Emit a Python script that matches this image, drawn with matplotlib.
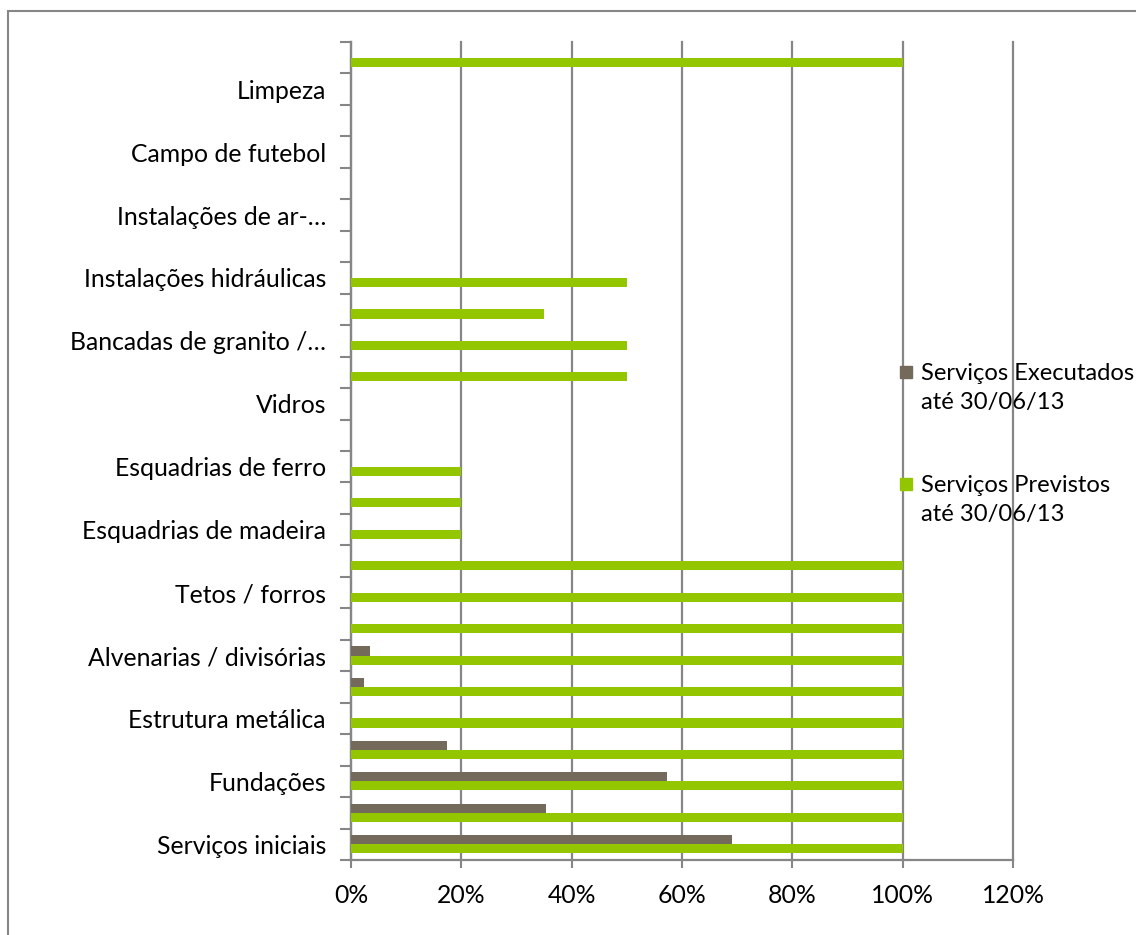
import matplotlib
matplotlib.use("Agg")
import matplotlib.pyplot as plt
from matplotlib.patches import Rectangle
import numpy as np

categories = ["Serviços iniciais", "", "Fundações", "", "Estrutura metálica", "",
              "Alvenarias / divisórias", "", "Tetos / forros", "", "Esquadrias de madeira", "",
              "Esquadrias de ferro", "", "Vidros", "", "Bancadas de granito /…", "",
              "Instalações hidráulicas", "", "Instalações de ar-…", "", "Campo de futebol", "",
              "Limpeza", ""]
executados = [69.0, 35.4, 57.3, 17.4, 0, 2.3, 3.4, 0, 0, 0, 0, 0, 0,
              0, 0, 0, 0, 0, 0, 0, 0, 0, 0, 0, 0, 0]
previstos = [100, 100, 100, 100, 100, 100, 100, 100, 100, 100, 20, 20, 20,
             0, 0, 50, 50, 35, 50, 0, 0, 0, 0, 0, 0, 100]
series_names = ["Serviços Executados\naté 30/06/13", "Serviços Previstos\naté 30/06/13"]
xticks = [0, 20, 40, 60, 80, 100, 120]

C_EXE = "#736A5C"
C_PRE = "#94C600"
C_GRID = "#868686"
FS = 17.8
FS_LEG = 17.1

plt.rcParams['font.family'] = ['Lato', 'DejaVu Sans']
W, H = 1136, 935
fig = plt.figure(figsize=(W / 100, H / 100), dpi=100)
ax = fig.add_axes([351 / W, 1 - 860 / H, (1013 - 351) / W, (860 - 42) / H])

n = len(categories)
y = np.arange(n)
bh = 0.29
ax.barh(y + bh / 2, executados, height=bh, color=C_EXE, zorder=3)
ax.barh(y - bh / 2, previstos, height=bh, color=C_PRE, zorder=3)

ax.set_xlim(0, 120)
ax.set_ylim(-0.5, n - 0.5)
ax.set_xticks(xticks)
ax.set_xticklabels([f"{v}%" for v in xticks], fontsize=FS)
ax.grid(axis='x', color=C_GRID, linewidth=1.6, zorder=0)
for gl in ax.get_xgridlines():
    gl.set_clip_on(False)
for s in ['top', 'right']:
    ax.spines[s].set_visible(False)
for s in ['left', 'bottom']:
    ax.spines[s].set_color(C_GRID)
    ax.spines[s].set_linewidth(1.6)
ax.tick_params(axis='x', length=6, width=1.5, color=C_GRID, pad=11, labelcolor='black')

# category boundaries as major ticks, labels as minor ticks
ax.set_yticks(np.arange(-0.5, n, 1.0))
ax.set_yticklabels([])
ax.tick_params(axis='y', which='major', length=8, width=1.5, color=C_GRID)
lab_idx = [i for i in range(n) if categories[i]]
ax.set_yticks(lab_idx, minor=True)
ax.set_yticklabels([categories[i] for i in lab_idx], minor=True, fontsize=FS)
ax.tick_params(axis='y', which='minor', length=0, pad=18)

# legend drawn manually
leg_items = [(C_EXE, 366), (C_PRE, 478)]
for (col, ytop), name in zip(leg_items, series_names):
    fig.patches.append(Rectangle((900 / W, 1 - (ytop + 12) / H), 12 / W, 12 / H,
                                 transform=fig.transFigure, color=col, zorder=5))
    fig.text(921 / W, 1 - (ytop - 3) / H, name, fontsize=FS_LEG, va='top', ha='left',
             linespacing=1.5)

# outer chart frame (cropped at right and bottom)
fig.patches.append(Rectangle((7.5 / W, -0.1), 1.2, 1 - 11 / H + 0.1,
                             transform=fig.transFigure, fill=False,
                             edgecolor=C_GRID, linewidth=1.5))

fig.savefig("out.png", dpi=100)
